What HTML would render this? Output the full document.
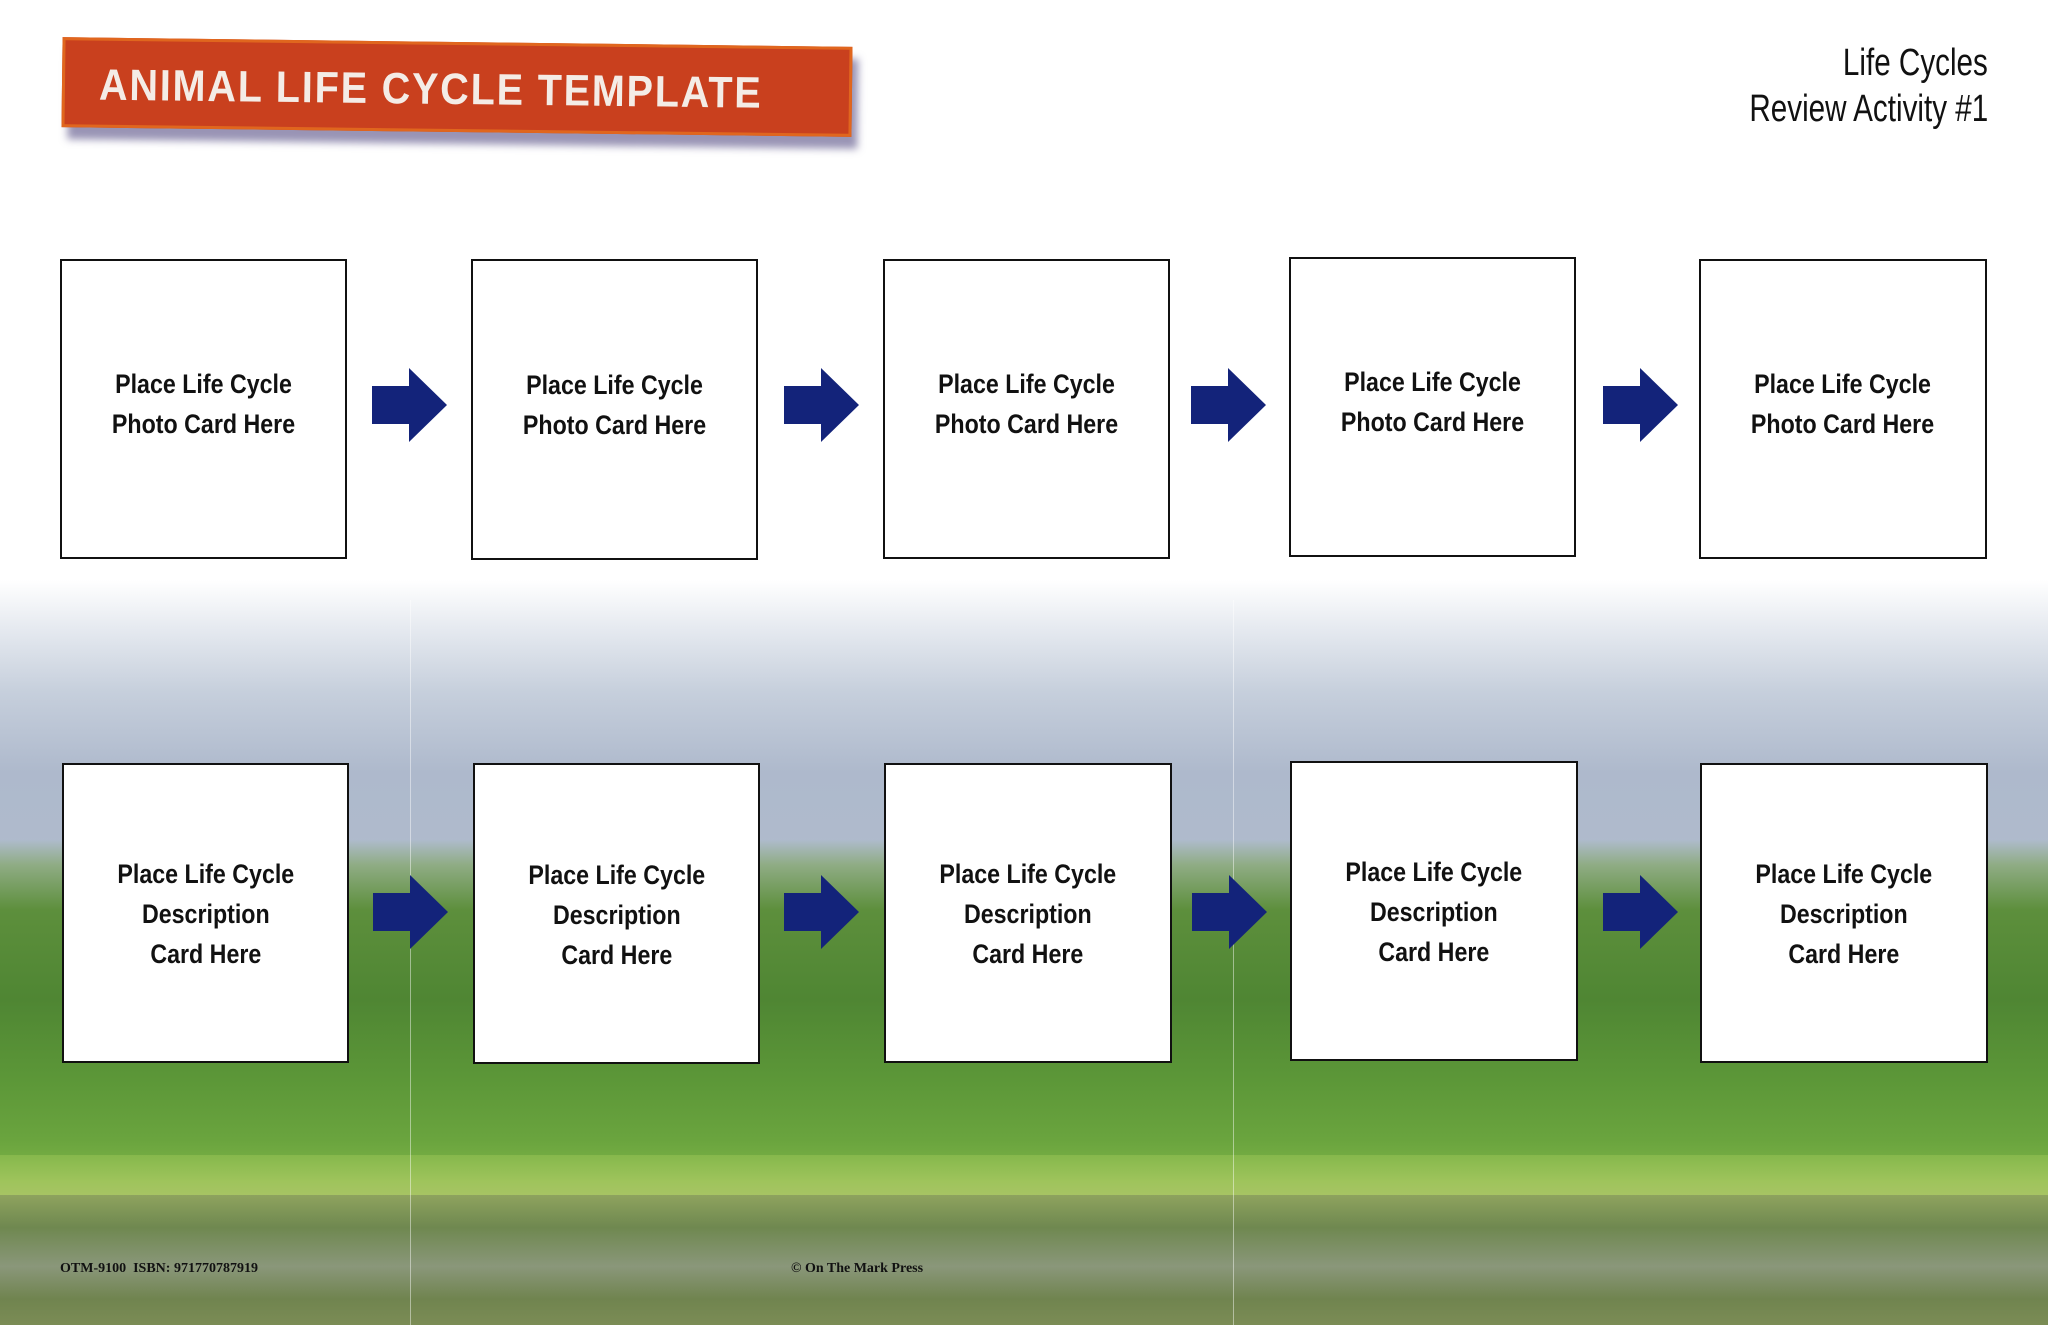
<!DOCTYPE html>
<html><head><meta charset="utf-8"><style>
html,body{margin:0;padding:0}
body{width:2048px;height:1325px;position:relative;overflow:hidden;background:#fff;font-family:"Liberation Sans",sans-serif}
.abs{position:absolute}
.sky{left:0;top:580px;width:2048px;height:320px;background:linear-gradient(#fff 0%,#e6eaf0 15%,#c6cfdc 35%,#aeb9cc 60%,#b0bccd 100%)}
.trees{left:0;top:840px;width:2048px;height:340px;
background:linear-gradient(#aebbcb 0px,#8fac84 25px,#5d8f3c 70px,#4f8633 160px,#5c9738 240px,#6aa43e 300px,#7fb548 340px)}
.grass{left:0;top:1155px;width:2048px;height:45px;background:linear-gradient(#86b84c,#9fc45c 60%,#a9c466)}
.water{left:0;top:1195px;width:2048px;height:130px;background:linear-gradient(#8ea35e,#6f8850 25%,#8a977a 55%,#70844f 80%,#7b8c55)}
.vline{top:600px;width:1px;height:725px;background:rgba(255,255,255,.45)}
.box{position:absolute;background:#fff;border:2.5px solid #111;box-sizing:border-box;display:flex;align-items:center;justify-content:center}
.box span{display:block;font-weight:bold;font-size:27px;color:#111;text-align:center;line-height:40px;white-space:nowrap;transform:translateY(-5px) scaleX(.86)}
.box.d span{transform:translateY(1px) scaleX(.86)}
.arrow{position:absolute;width:75px;height:74px}
.banner{left:62px;top:42px;width:790px;height:90px;background:#c9401e;transform:rotate(0.7deg);box-shadow:6px 12px 8px rgba(70,60,120,.55);border:3px solid #e0661e;box-sizing:border-box}
.banner span{position:absolute;left:34px;top:20px;font-weight:bold;font-size:44px;letter-spacing:2px;color:#f4ece6;white-space:nowrap;transform:scaleX(.9);transform-origin:left}
.hdr{right:60px;text-align:right;font-size:38px;color:#111;white-space:nowrap;transform:scaleX(.78);transform-origin:right}
.foot{top:1261px;font-family:"Liberation Serif",serif;font-weight:bold;font-size:14px;color:#111;white-space:nowrap}
</style></head><body>
<div class="abs sky"></div>
<div class="abs trees"></div>
<div class="abs grass"></div>
<div class="abs water"></div>
<div class="abs vline" style="left:410px"></div>
<div class="abs vline" style="left:1233px"></div>

<div class="abs banner"><span>ANIMAL LIFE CYCLE TEMPLATE</span></div>
<div class="abs hdr" style="top:42px">Life Cycles</div>
<div class="abs hdr" style="top:88px">Review Activity #1</div>

<div class="box" style="left:60px;top:259px;width:287px;height:300px"><span>Place Life Cycle<br>Photo Card Here</span></div>
<div class="box" style="left:471px;top:259px;width:287px;height:301px"><span>Place Life Cycle<br>Photo Card Here</span></div>
<div class="box" style="left:883px;top:259px;width:287px;height:300px"><span>Place Life Cycle<br>Photo Card Here</span></div>
<div class="box" style="left:1289px;top:257px;width:287px;height:300px"><span>Place Life Cycle<br>Photo Card Here</span></div>
<div class="box" style="left:1699px;top:259px;width:288px;height:300px"><span>Place Life Cycle<br>Photo Card Here</span></div>

<div class="box d" style="left:62px;top:763px;width:287px;height:300px"><span>Place Life Cycle<br>Description<br>Card Here</span></div>
<div class="box d" style="left:473px;top:763px;width:287px;height:301px"><span>Place Life Cycle<br>Description<br>Card Here</span></div>
<div class="box d" style="left:884px;top:763px;width:288px;height:300px"><span>Place Life Cycle<br>Description<br>Card Here</span></div>
<div class="box d" style="left:1290px;top:761px;width:288px;height:300px"><span>Place Life Cycle<br>Description<br>Card Here</span></div>
<div class="box d" style="left:1700px;top:763px;width:288px;height:300px"><span>Place Life Cycle<br>Description<br>Card Here</span></div>

<svg class="arrow" style="left:372px;top:368px" viewBox="0 0 75 74"><polygon points="0,18 37,18 37,0 75,37 37,74 37,56 0,56" fill="#13237a"/></svg>
<svg class="arrow" style="left:784px;top:368px" viewBox="0 0 75 74"><polygon points="0,18 37,18 37,0 75,37 37,74 37,56 0,56" fill="#13237a"/></svg>
<svg class="arrow" style="left:1191px;top:368px" viewBox="0 0 75 74"><polygon points="0,18 37,18 37,0 75,37 37,74 37,56 0,56" fill="#13237a"/></svg>
<svg class="arrow" style="left:1603px;top:368px" viewBox="0 0 75 74"><polygon points="0,18 37,18 37,0 75,37 37,74 37,56 0,56" fill="#13237a"/></svg>

<svg class="arrow" style="left:373px;top:875px" viewBox="0 0 75 74"><polygon points="0,18 37,18 37,0 75,37 37,74 37,56 0,56" fill="#13237a"/></svg>
<svg class="arrow" style="left:784px;top:875px" viewBox="0 0 75 74"><polygon points="0,18 37,18 37,0 75,37 37,74 37,56 0,56" fill="#13237a"/></svg>
<svg class="arrow" style="left:1192px;top:875px" viewBox="0 0 75 74"><polygon points="0,18 37,18 37,0 75,37 37,74 37,56 0,56" fill="#13237a"/></svg>
<svg class="arrow" style="left:1603px;top:875px" viewBox="0 0 75 74"><polygon points="0,18 37,18 37,0 75,37 37,74 37,56 0,56" fill="#13237a"/></svg>

<div class="abs foot" style="left:60px">OTM-9100&nbsp; ISBN: 971770787919</div>
<div class="abs foot" style="left:791px">© On The Mark Press</div>
</body></html>
